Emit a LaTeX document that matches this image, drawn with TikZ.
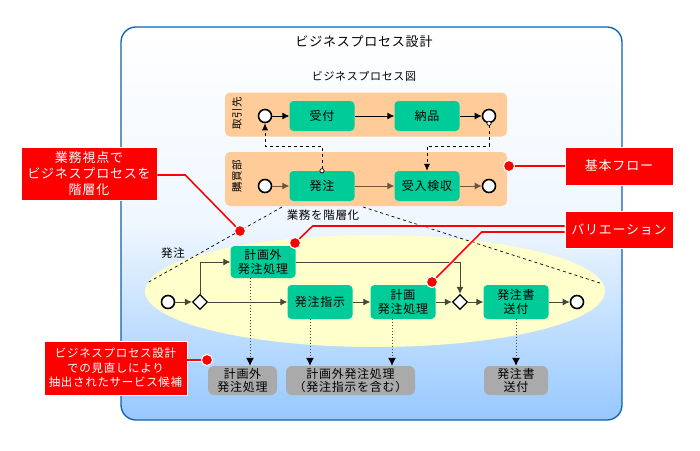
\documentclass[tikz,border=0pt]{standalone}
\usepackage{fontspec}
\setmainfont{Noto Sans CJK JP}[LetterSpace=6]
\usetikzlibrary{arrows.meta,shapes.geometric,positioning}
\definecolor{taskgreen}{RGB}{0,204,153}
\definecolor{lanepeach}{RGB}{255,204,153}
\definecolor{ovalyellow}{RGB}{255,255,204}
\definecolor{svcgray}{RGB}{170,170,170}
\definecolor{frameblue}{RGB}{16,96,176}
\definecolor{skyblue}{RGB}{150,200,255}
\definecolor{flowbrown}{RGB}{110,85,60}
\definecolor{flowgray}{RGB}{70,70,60}
\tikzset{
  task/.style={fill=taskgreen, rounded corners=4pt, minimum width=65pt, minimum height=30pt,
    inner sep=1pt, align=center, font=\fontsize{12}{14}\selectfont},
  evt/.style={circle, draw, line width=1.6pt, fill=white, minimum size=13pt, inner sep=0pt},
  gw/.style={diamond, draw, line width=1.3pt, fill=white, minimum size=15pt, inner sep=0pt},
  lane/.style={fill=lanepeach, rounded corners=5pt, minimum width=282pt},
  svc/.style={fill=svcgray, rounded corners=6pt, minimum height=29pt, inner sep=1pt,
    align=center, font=\fontsize{12}{13.5}\selectfont},
  note/.style={fill=red, draw=white, line width=0.6pt, text=white, align=center, inner sep=1pt,
    font=\fontsize{13}{16}\selectfont},
  pin/.style={circle, fill=red, draw=white, line width=1pt, minimum size=11pt, inner sep=0pt},
  flow/.style={line width=0.9pt, -{Latex[length=7pt,width=7pt]}},
  msg/.style={dashed, line width=0.7pt, {Circle[open,length=5pt,width=5pt,fill=white]}-{Latex[length=7pt,width=6pt]}},
  drill/.style={dotted, line width=1pt, flowgray, -{Latex[length=8pt,width=8pt,black]}},
  callout/.style={red, line width=1.6pt, preaction={draw=white, line width=3pt}},
}
\begin{document}
\begin{tikzpicture}[x=1pt,y=-1pt]
\useasboundingbox (0,0) rectangle (700,450);
% frame
\draw[frameblue, line width=1.3pt, rounded corners=15pt, top color=white, bottom color=skyblue,
  middle color=white!85!skyblue] (121,27) rectangle (622,420);
\node[font=\fontsize{13}{15}\selectfont] (title) at (364,42) {ビジネスプロセス設計};
\node[font=\fontsize{11}{13}\selectfont] (zu) at (364,76) {ビジネスプロセス図};

% lanes
\node[lane, minimum height=44pt] (lane1) at (366,114.5) {};
\node[lane, minimum height=54pt] (lane2) at (366,179) {};
\node[rotate=90, font=\fontsize{10.5}{12}\selectfont] (l1) at (237,113) {取引先};
\node[rotate=90, font=\fontsize{10.5}{12}\selectfont] (l2) at (237,176) {購買部};

\node[evt] (s1) at (265,116) {};
\node[task] (uketsuke) at (322,116) {受付};
\node[task] (nohin) at (427,116) {納品};
\node[evt] (e1) at (489,116) {};
\draw[flow] (s1) -- (uketsuke);
\draw[flow] (uketsuke) -- (nohin);
\draw[flow] (nohin) -- (e1);

\node[evt] (s2) at (265,186) {};
\node[task] (hacchu) at (322,186) {発注};
\node[task] (kenshu) at (427,186) {受入検収};
\node[evt] (e2) at (489,186) {};
\draw[flow, flowbrown] (s2) -- (hacchu);
\draw[flow, flowbrown] (hacchu) -- (kenshu);
\draw[flow, flowbrown] (kenshu) -- (e2);

% message flows
\coordinate (msgy) at (0,146);
\draw[msg, shorten <=-2.5pt] (hacchu.north) -- (hacchu.north |- msgy) -| (s1.south);
\draw[msg, shorten <=-2.5pt] (e1.south) -- (e1.south |- msgy) -| (kenshu.north);

% hierarchy
\coordinate (hl) at (282,207);
\coordinate (hr) at (363,207);
\coordinate (el) at (147,283);
\coordinate (er) at (600,283);
\node[ellipse, fill=ovalyellow, minimum width=460pt, minimum height=112pt, inner sep=0pt] (lvl) at (375,291) {};
\draw[dashed, line width=0.7pt] (hl) -- (el);
\draw[dashed, line width=0.7pt] (hr) -- (er);
\node[font=\fontsize{11.5}{13}\selectfont] (kaiso) at (323,215) {業務を階層化};
\node[font=\fontsize{11.5}{13}\selectfont] (hlabel) at (173,253) {発注};

\node[evt] (s3) at (168,302) {};
\node[gw] (g1) at (200,302) {};
\node[task, minimum height=32pt] (keikakugai) at (263,262) {計画外\\発注処理};
\node[task, minimum height=34pt] (shiji) at (320,302) {発注指示};
\node[task, minimum height=34pt] (keikaku) at (403,302) {計画\\発注処理};
\node[gw] (g2) at (460,302) {};
\node[task, minimum height=34pt] (sofu) at (516,302) {発注書\\送付};
\node[evt] (e3) at (577,302) {};
\draw[flow, flowgray] (s3) -- (g1);
\draw[flow, flowgray] (g1.north) |- (keikakugai.west);
\draw[flow, flowgray] (g1) -- (shiji);
\draw[flow, flowgray] (shiji) -- (keikaku);
\draw[flow, flowgray] (keikaku) -- (g2);
\draw[flow, flowgray] (keikakugai.east) -| (g2.north);
\draw[flow, flowgray] (g2) -- (sofu);
\draw[flow, flowgray] (sofu) -- (e3);

% service candidates
\node[svc, minimum width=69pt] (svc1) at (242.5,380.5) {計画外\\発注処理};
\node[svc, minimum width=129pt] (svc2) at (350.5,380.5) {計画外発注処理\\（発注指示を含む）};
\node[svc, minimum width=64pt] (svc3) at (516,380.5) {発注書\\送付};
\draw[drill] ([xshift=-13pt]keikakugai.south) -- ([xshift=-13pt]keikakugai.south |- svc1.north);
\draw[drill] ([xshift=-10pt]shiji.south) -- ([xshift=-10pt]shiji.south |- svc2.north);
\draw[drill] ([xshift=-11pt]keikaku.south) -- ([xshift=-11pt]keikaku.south |- svc2.north);
\draw[drill] (sofu.south) -- (svc3.north);

% callouts
\node[note, minimum width=136pt, minimum height=53pt] (note1) at (89,173.5) {業務視点で\\ビジネスプロセスを\\階層化};
\node[note, minimum width=108pt, minimum height=38pt] (note2) at (619,166) {基本フロー};
\node[note, minimum width=108pt, minimum height=37pt] (note3) at (619,229.5) {バリエーション};
\node[note, minimum width=143pt, minimum height=54pt, font=\fontsize{11.5}{14.5}\selectfont] (note4) at (115.5,368) {ビジネスプロセス設計\\での見直しにより\\抽出されたサービス候補};
\node[pin] (pin1) at (240,231) {};
\node[pin] (pin2) at (509,166) {};
\node[pin] (pin3a) at (295,243) {};
\node[pin] (pin3b) at (432,282) {};
\node[pin] (pin4) at (207,360) {};
\draw[callout] ([yshift=-1.5pt]note1.east) -- ++(28,0) -- (pin1);
\draw[callout] (note2.west) -- (pin2);
\draw[callout] ([yshift=3.5pt]note3.west) -- ++(-252,0) -- (pin3a);
\draw[callout] ([yshift=-2.5pt]note3.west) -- ++(-83,0) -- (pin3b);
\draw[callout] ([yshift=8pt]note4.east) -- (pin4);
\node[pin] at (pin1) {};
\node[pin] at (pin2) {};
\node[pin] at (pin3a) {};
\node[pin] at (pin3b) {};
\node[pin] at (pin4) {};
\end{tikzpicture}
\end{document}
